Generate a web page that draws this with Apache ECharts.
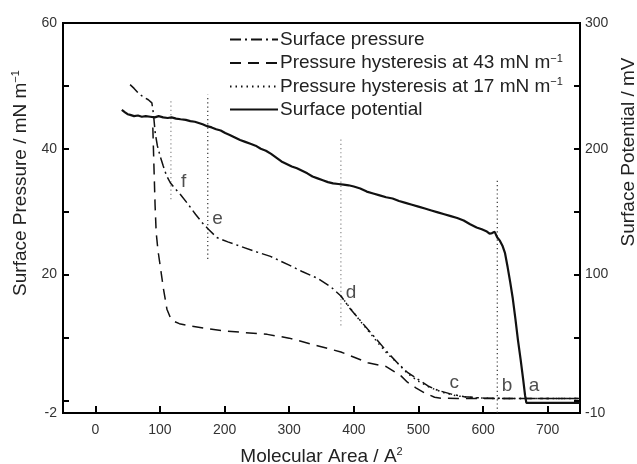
<!DOCTYPE html>
<html>
<head>
<meta charset="utf-8">
<script src="https://cdn.jsdelivr.net/npm/echarts@6/dist/echarts.min.js"></script>
<style>
html,body{margin:0;padding:0;background:#fff;}
#chart{width:637px;height:464px;}
</style>
</head>
<body>
<div id="chart"></div>
<script>
// ---------- data ----------
const pressureArea  = [53.8, 60, 67, 75, 82, 87.5, 90, 92.6, 96, 100.4, 105, 110, 116, 124, 132, 142, 155, 165, 175, 188, 205, 224.5, 250, 271, 300, 320, 344, 365, 380, 395, 410, 421.6, 437, 452.6, 468, 483.6, 500, 514.7, 530, 551, 571, 602, 650, 700, 750];
const pressureValue = [50.2, 49.6, 48.8, 48.2, 47.8, 47.3, 45.5, 42.6, 40.5, 38.8, 37.3, 35.8, 34.6, 33.6, 32.7, 31.4, 29.6, 28.3, 27.2, 25.9, 25.2, 24.5, 23.6, 22.9, 21.5, 20.5, 19.4, 18.0, 16.6, 14.5, 12.7, 11.3, 9.5, 7.6, 5.9, 4.4, 3.3, 2.3, 1.6, 1.0, 0.6, 0.35, 0.3, 0.3, 0.3];

const hyst43Area  = [89, 90.5, 92.5, 94.2, 97, 100.4, 105.5, 110.8, 116, 121, 130, 147, 175, 198.6, 230, 266, 300, 343.5, 380, 421.6, 449.5, 473, 483, 496, 509.5, 525, 535, 560, 600, 650, 700, 750];
const hyst43Value = [43.4, 38.0, 31.0, 26.7, 23.8, 21.4, 17.7, 14.5, 13.2, 12.6, 12.2, 11.85, 11.4, 11.05, 10.8, 10.5, 9.9, 8.7, 7.7, 6.0, 5.4, 3.9, 2.9, 2.0, 1.2, 0.5, 0.35, 0.3, 0.3, 0.3, 0.3, 0.3];

const hyst17Area  = [380, 395, 410, 422, 437, 452, 467, 483, 499, 519, 540, 560, 590, 620, 680, 750];
const hyst17Value = [16.6, 14.6, 12.6, 11.1, 9.2, 7.4, 6.0, 4.3, 3.1, 2.0, 1.2, 0.7, 0.4, 0.3, 0.3, 0.3];

const potentialArea  = [41, 46, 50, 54, 60, 66, 72, 78, 85, 92, 98, 105, 112, 118, 125, 132, 140, 147, 154, 160, 166, 173, 180, 187, 194, 201, 208, 216, 224, 232, 240, 248, 256, 264, 272, 280, 288, 296, 304, 312, 320, 328, 336, 344, 352, 360, 368, 376, 384, 392, 400, 410, 420, 430, 440, 450, 460, 470, 480, 490, 500, 510, 520, 530, 540, 550, 560, 570, 580, 590, 598, 605, 610, 614, 618, 622, 626, 630, 634, 638, 642, 646, 650, 654, 658, 662, 665, 667, 700, 750];
const potentialValue = [231, 229, 227.5, 227, 226, 226.5, 225.5, 226, 225.5, 225, 226, 225, 224.5, 225, 224, 223.5, 223, 222, 221.5, 220.5, 219.5, 218, 217, 215.5, 214.5, 212.5, 211, 209, 207, 205.5, 204, 202.5, 200, 198.5, 196, 193, 190, 188, 186, 184.5, 182.5, 180.5, 178, 176.5, 175, 173.5, 172.5, 172, 171.5, 171, 170, 168.5, 166, 164.5, 163, 161.5, 160.5, 158.5, 157, 155.5, 154, 152.5, 151, 149.5, 148, 146.5, 145, 143, 140, 137.5, 136, 134.5, 132.5, 133, 134, 129.5, 127, 123, 117, 106, 94, 81, 65, 48, 33, 17, 4, -2, -2, -2];

// vertical dotted guide lines (area, low pressure, high pressure)
const markerArea = [117, 174, 380, 622];
const markerLow  = [32.0, 22.5, 11.9, -2];
const markerHigh = [47.8, 48.6, 41.8, 35.4];

// point letters
const pointLetters = ['f', 'e', 'd', 'c', 'b', 'a'];
const pointArea    = [136.5, 189.3, 395.7, 555.5, 637.2, 678.7];
const pointValue   = [34.8, 28.9, 17.1, 2.86, 2.3, 2.33];

// axis ticks and labels
const xTickValues = [0, 100, 200, 300, 400, 500, 600, 700];
const leftTickValues = [0, 10, 20, 30, 40, 50, 60];
const leftLabelValues = [-2, 20, 40, 60];
const rightTickValues = [0, 50, 100, 150, 200, 250, 300];
const rightLabelValues = [-10, 100, 200, 300];

const seriesNames = ['Surface pressure', 'Pressure hysteresis at 43 mN m⁻¹', 'Pressure hysteresis at 17 mN m⁻¹', 'Surface potential'];

// ---------- styles ----------
const FONT = "'Liberation Sans', Arial, Helvetica, sans-serif";
const markerColors = ['#8a8a8a', '#333333', '#8a8a8a', '#333333'];
const zip = (a, b) => a.map((v, i) => [v, b[i]]);

const series = [
  {
    name: seriesNames[0], type: 'line', data: zip(pressureArea, pressureValue),
    symbol: 'none', lineStyle: { color: '#111', width: 1.5, type: [11, 4, 2, 4] }, itemStyle: { color: '#111' }, z: 4
  },
  {
    name: seriesNames[1], type: 'line', data: zip(hyst43Area, hyst43Value),
    symbol: 'none', lineStyle: { color: '#111', width: 1.5, type: [11, 7] }, itemStyle: { color: '#111' }, z: 3
  },
  {
    name: seriesNames[2], type: 'line', data: zip(hyst17Area, hyst17Value),
    symbol: 'none', lineStyle: { color: '#111', width: 1.5, type: [1.5, 4] }, itemStyle: { color: '#111' }, z: 3
  },
  {
    name: seriesNames[3], type: 'line', yAxisIndex: 1, data: zip(potentialArea, potentialValue),
    symbol: 'none', lineStyle: { color: '#111', width: 2.2, type: 'solid' }, itemStyle: { color: '#111' }, z: 5
  }
];

markerArea.forEach((x, i) => {
  series.push({
    name: 'guide' + i, type: 'line', data: [[x, markerLow[i]], [x, markerHigh[i]]],
    symbol: 'none', silent: true,
    lineStyle: { color: markerColors[i], width: 1.2, type: [1.2, 3] }, z: 2
  });
});

series.push({
  name: 'letters', type: 'scatter', symbolSize: 0, silent: true,
  data: pointArea.map((x, i) => ({ name: pointLetters[i], value: [x, pointValue[i]] })),
  label: {
    show: true, position: 'inside', formatter: p => p.name,
    fontFamily: FONT, fontSize: 19, color: '#222'
  }
});

const supRich = {
  t: { fontFamily: FONT, fontSize: 19, color: '#222', lineHeight: 22 },
  s: { fontFamily: FONT, fontSize: 11, color: '#222', verticalAlign: 'top', lineHeight: 22 }
};
const legendRich = {
  t: { fontFamily: FONT, fontSize: 19, color: '#222', lineHeight: 20 },
  s: { fontFamily: FONT, fontSize: 11, color: '#222', verticalAlign: 'top', lineHeight: 20 }
};

const option = {
  animation: false,
  backgroundColor: '#fff',
  grid: { left: 63, right: 57, top: 23, bottom: 51, show: true, borderColor: '#000', borderWidth: 2, containLabel: false, outerBoundsMode: 'none' },
  legend: {
    data: seriesNames,
    orient: 'vertical', left: 229, top: 30, padding: 0,
    itemWidth: 48, itemHeight: 12, itemGap: 4,
    itemStyle: { opacity: 0 },
    formatter: name => {
      if (name.endsWith('⁻¹')) return '{t|' + name.slice(0, -2) + '}{s|−1}';
      return '{t|' + name + '}';
    },
    textStyle: { fontFamily: FONT, fontSize: 19, color: '#222', padding: [0, 0, 0, -3], rich: legendRich }
  },
  xAxis: {
    type: 'value', min: -50, max: 750,
    name: '{t|Molecular Area / A}{s|2}', nameLocation: 'middle', nameGap: 33,
    nameTextStyle: { rich: supRich },
    axisLine: { show: true, onZero: false, lineStyle: { color: '#000', width: 2 } },
    axisTick: { show: true, inside: true, length: 7, customValues: xTickValues, lineStyle: { color: '#000', width: 2 } },
    axisLabel: { customValues: xTickValues, fontFamily: FONT, fontSize: 14, color: '#333', margin: 10 },
    splitLine: { show: false }
  },
  yAxis: [
    {
      type: 'value', min: -2, max: 60, position: 'left',
      name: '{t|Surface Pressure / mN m}{s|−1}', nameLocation: 'middle', nameGap: 29, nameRotate: 90,
      nameTextStyle: { rich: supRich, padding: [0, 0, 0, 70] },
      axisLine: { show: true, onZero: false, lineStyle: { color: '#000', width: 2 } },
      axisTick: { show: true, inside: true, length: 6, customValues: leftTickValues, lineStyle: { color: '#000', width: 2 } },
      axisLabel: { customValues: leftLabelValues, fontFamily: FONT, fontSize: 14, color: '#333', margin: 6 },
      splitLine: { show: false }
    },
    {
      type: 'value', min: -10, max: 300, position: 'right',
      name: '{t|Surface Potential / mV}', nameLocation: 'middle', nameGap: 38, nameRotate: 90,
      nameTextStyle: { rich: supRich, padding: [0, 0, 0, 132] },
      axisLine: { show: true, onZero: false, lineStyle: { color: '#000', width: 2 } },
      axisTick: { show: true, inside: true, length: 6, customValues: rightTickValues, lineStyle: { color: '#000', width: 2 } },
      axisLabel: { customValues: rightLabelValues, fontFamily: FONT, fontSize: 14, color: '#333', margin: 5 },
      splitLine: { show: false }
    }
  ],
  series: series
};

const chart = echarts.init(document.getElementById('chart'), null, { renderer: 'canvas' });
chart.setOption(option);
</script>
</body>
</html>
